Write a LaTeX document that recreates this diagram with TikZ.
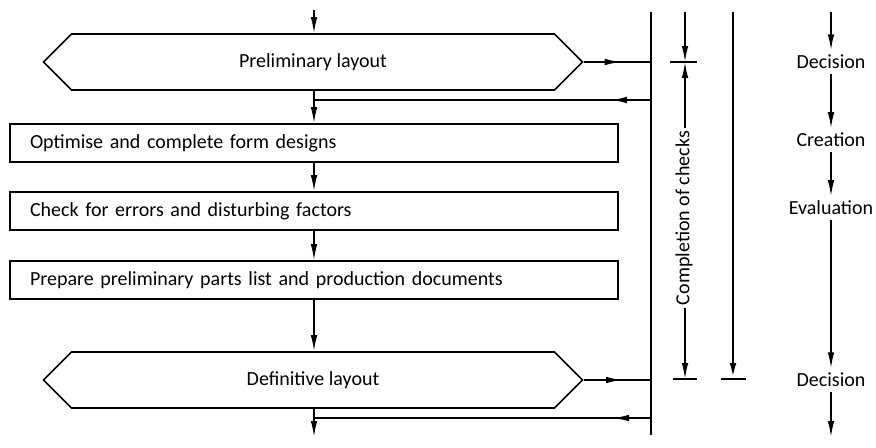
\documentclass[tikz,border=0pt]{standalone}
\usepackage{fontspec}
\setmainfont{Carlito}
\usetikzlibrary{arrows.meta, positioning, calc, shapes.symbols, decorations.markings}
\tikzset{
  tip/.style={-{Latex[length=8pt,width=3.3pt]}},
  stagebox/.style={draw, line width=0.8pt, minimum height=19pt, text width=284pt,
                   inner xsep=10pt, inner ysep=0pt, align=left},
  layoutbox/.style={draw, line width=0.8pt, shape=signal, signal to=west and east,
                    signal pointer angle=90, minimum width=269.5pt, minimum height=28pt,
                    inner sep=0pt},
  midtip/.style={postaction=decorate, decoration={markings,
                 mark=at position #1 with {\arrow{Latex[length=8pt,width=3.3pt]}}}},
  phase/.style={inner sep=2pt},
}
\begin{document}
\begin{tikzpicture}[x=0.5pt, y=-0.5pt, line width=0.8pt]
\useasboundingbox (0,0) rectangle (876,447);

% main flow
\coordinate (intop) at (314,10);
\coordinate (inbot) at (314,437);
\node[layoutbox] (prelim) at (313,62) {Preliminary layout};
\node[stagebox] (optimise) at (314,143) {Optimise and complete form designs};
\node[stagebox] (check) at (314,211) {Check for errors and disturbing factors};
\node[stagebox] (prepare) at (314,280) {Prepare preliminary parts list and production documents};
\node[layoutbox] (defin) at (313,380) {Definitive layout};

\draw[tip] (intop) -- (intop |- prelim.north);
\draw[tip] (prelim.south -| intop) -- (optimise.north -| intop);
\draw[tip] (optimise.south -| intop) -- (check.north -| intop);
\draw[tip] (check.south -| intop) -- (prepare.north -| intop);
\draw[tip] (prepare.south -| intop) -- (defin.north -| intop);
\draw[tip] (defin.south -| intop) -- (inbot);

% check bar and feedback
\coordinate (bartop) at (651,12);
\coordinate (barbot) at (651,435);
\draw (bartop) -- (barbot);
\coordinate (fb1) at (651,100);
\coordinate (fb2) at (651,418);
\draw[midtip=0.55] (prelim.east) -- (prelim.east -| bartop);
\draw[midtip=20pt] (fb1) -- (fb1 -| intop);
\draw[midtip=0.57] (defin.east) -- (defin.east -| bartop);
\draw[midtip=19pt] (fb2) -- (fb2 -| intop);

% completion of checks
\node[rotate=90, inner sep=1pt] (checks) at (684,218) {Completion of checks};
\coordinate (dimtop) at (685,12);
\coordinate (tick1) at (685,62);
\coordinate (tick2) at (685,379);
\draw (tick1) ++(-15,0) -- ++(27,0);
\draw (tick2) ++(-12,0) -- ++(24,0);
\draw[tip] (dimtop) -- (tick1);
\draw[tip] (checks.east -| tick1) -- (tick1);
\draw[tip] (checks.west -| tick2) -- (tick2);

\coordinate (longtop) at (733,12);
\coordinate (longend) at (733,379);
\draw[tip, line width=1.3pt] (longtop) -- (longend);
\draw (longend) ++(-12,0) -- ++(25,0);

% phases
\node[phase] (dec1) at (831,62) {Decision};
\node[phase] (create) at (831,140) {Creation};
\node[phase] (evalu) at (831,208) {Evaluation};
\node[phase] (dec2) at (831,380) {Decision};
\coordinate (phtop) at (831,12);
\coordinate (phbot) at (831,437);
\draw[tip] (phtop) -- (dec1.north);
\draw[tip] (dec1.south) -- (create.north);
\draw[tip] (create.south) -- (evalu.north);
\draw[tip] (evalu.south) -- (dec2.north);
\draw[tip] (dec2.south) -- (phbot);
\end{tikzpicture}
\end{document}
